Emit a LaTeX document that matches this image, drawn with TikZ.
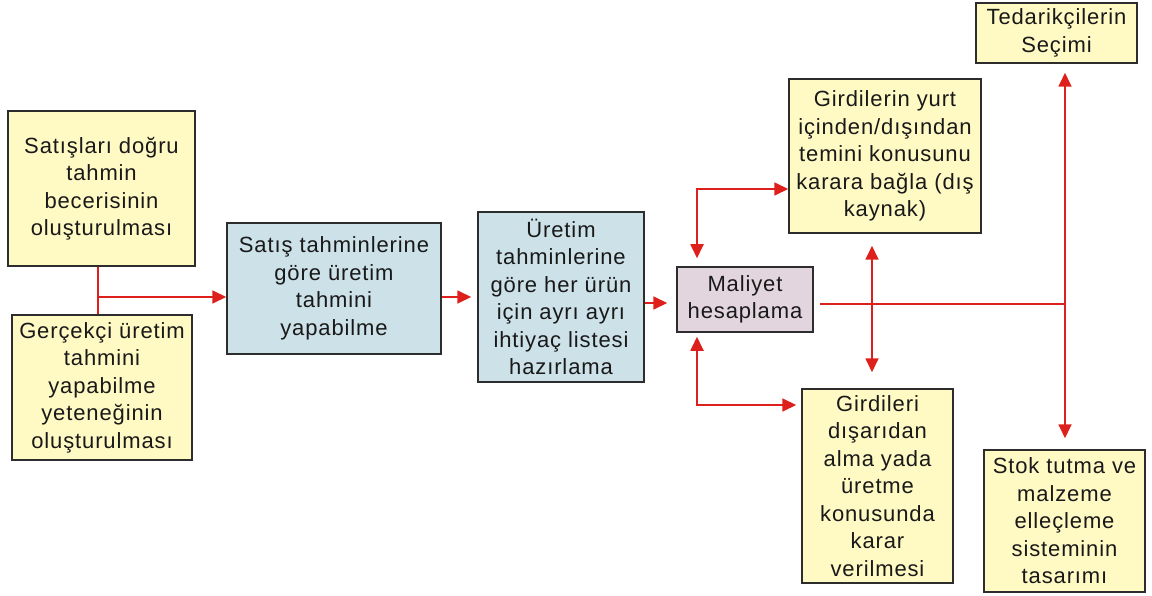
\documentclass[tikz,border=0pt]{standalone}
\usepackage{fontspec}
\setmainfont{Liberation Sans}[LetterSpace=4]
\usetikzlibrary{arrows.meta}
\definecolor{boxyellow}{RGB}{255,249,196}
\definecolor{boxblue}{RGB}{205,225,232}
\definecolor{boxmauve}{RGB}{226,213,222}
\definecolor{linkred}{RGB}{222,32,28}
\definecolor{edgegray}{RGB}{45,45,45}
\definecolor{inkgray}{RGB}{25,25,25}
\tikzset{
  procbox/.style={draw=edgegray, line width=1.5pt, inner sep=0pt, align=center,
    text=inkgray, font=\fontsize{22}{27.5}\selectfont},
  ybox/.style={procbox, fill=boxyellow},
  bbox/.style={procbox, fill=boxblue},
  mbox/.style={procbox, fill=boxmauve},
  link/.style={draw=linkred, line width=1.8pt},
  flow/.style={link, -{Triangle[length=14pt,width=13pt]}},
  twoway/.style={link, {Triangle[length=14pt,width=13pt]}-{Triangle[length=14pt,width=13pt]}}
}
\begin{document}
\begin{tikzpicture}[x=1pt,y=-1pt]
\useasboundingbox (0,0) rectangle (1152,596);

% process boxes
\node[ybox, minimum width=187, minimum height=155] (sales) at (101.5,188.5)
  {Satışları doğru\\tahmin\\becerisinin\\oluşturulması};
\node[ybox, minimum width=180, minimum height=145] (real) at (102,387.5)
  {Gerçekçi üretim\\tahmini\\yapabilme\\yeteneğinin\\oluşturulması};
\node[bbox, minimum width=214, minimum height=131] (fcast) at (334,288.5)
  {Satış tahminlerine\\göre üretim\\tahmini\\yapabilme};
\node[bbox, minimum width=166, minimum height=170] (needs) at (561,297)
  {Üretim\\tahminlerine\\göre her ürün\\için ayrı ayrı\\ihtiyaç listesi\\hazırlama};
\node[mbox, minimum width=136, minimum height=65] (cost) at (745,299.5)
  {Maliyet\\hesaplama};
\node[ybox, minimum width=192, minimum height=154] (source) at (885,156)
  {Girdilerin yurt\\içinden/dışından\\temini konusunu\\karara bağla (dış\\kaynak)};
\node[ybox, minimum width=151, minimum height=194] (makebuy) at (877.5,486)
  {Girdileri\\dışarıdan\\alma yada\\üretme\\konusunda\\karar\\verilmesi};
\node[ybox, minimum width=161, minimum height=60] (supp) at (1056.5,33)
  {Tedarikçilerin\\Seçimi};
\node[ybox, minimum width=161, minimum height=142] (stock) at (1064.5,521)
  {Stok tutma ve\\malzeme\\elleçleme\\sisteminin\\tasarımı};

% junction and bend points
\coordinate (jl) at (98,297);
\coordinate (r1) at (0,297);
\coordinate (r2) at (0,303);
\coordinate (bu) at (697,189);
\coordinate (bd) at (697,405);
\coordinate (vx) at (872,0);
\coordinate (jr) at (1065,304);

% connectors
\draw[link] (sales.south -| jl) -- (real.north -| jl);
\draw[flow] (jl) -- (fcast.west |- jl);
\draw[flow, shorten >=6pt] (fcast.east |- r1) -- (needs.west |- r1);
\draw[flow, shorten >=9pt] (needs.east |- r2) -- (cost.west |- r2);
\draw[twoway, shorten <=8pt] (cost.north -| bu) -- (bu) -- (source.west |- bu);
\draw[twoway, shorten <=4pt, shorten >=5pt] (cost.south -| bd) -- (bd) -- (makebuy.west |- bd);
\draw[twoway, shorten <=12pt, shorten >=16pt] (source.south -| vx) -- (makebuy.north -| vx);
\draw[link, shorten <=6pt] (cost.east |- jr) -- (jr);
\draw[twoway, shorten <=9pt, shorten >=11pt] (supp.south -| jr) -- (stock.north -| jr);
\end{tikzpicture}
\end{document}
